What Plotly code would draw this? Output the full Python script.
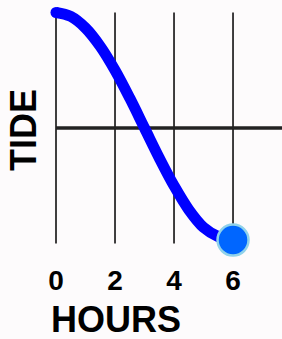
import plotly.graph_objects as go

# Data
hours = [0, 0.5, 1, 1.5, 2, 2.5, 3, 3.5, 4, 4.5, 5, 5.5, 6]
tide = [1.0, 0.966, 0.866, 0.707, 0.5, 0.259, 0.0, -0.259, -0.5, -0.707, -0.86, -0.94, -0.97]
tick_hours = [0, 2, 4, 6]
tick_labels = ["0", "2", "4", "6"]
grid_low, grid_high = -1, 1
mean_level = 0
x_end = 8

FONT = "Arial, Liberation Sans, sans-serif"
BG = "#fdfbfc"

fig = go.Figure()

# vertical grid lines at the hour ticks
gx, gy = [], []
for h in tick_hours:
    gx += [h, h, None]
    gy += [grid_low, grid_high, None]
fig.add_trace(go.Scatter(x=gx, y=gy, mode="lines",
                         line=dict(color="#000000", width=1.5),
                         hoverinfo="skip", showlegend=False))

# mean tide level line
fig.add_trace(go.Scatter(x=[tick_hours[0], x_end], y=[mean_level, mean_level], mode="lines",
                         line=dict(color="#222222", width=3.5),
                         hoverinfo="skip", showlegend=False))

# tide curve
fig.add_trace(go.Scatter(x=hours, y=tide, mode="lines",
                         line=dict(color="#0000ff", width=11, shape="spline"),
                         showlegend=False))

# start cap
fig.add_trace(go.Scatter(x=hours[:1], y=tide[:1], mode="markers",
                         marker=dict(color="#0000ff", size=11, line=dict(width=0)),
                         showlegend=False, cliponaxis=False))

# end dot
fig.add_trace(go.Scatter(x=hours[-1:], y=tide[-1:], mode="markers",
                         marker=dict(color="#0066ff", size=31,
                                     line=dict(color="#90d2ea", width=2.5)),
                         showlegend=False, cliponaxis=False))

PLOT_BOTTOM = 261
fig.update_layout(
    width=282, height=339,
    margin=dict(l=47, r=0, t=1, b=339 - PLOT_BOTTOM),
    paper_bgcolor=BG, plot_bgcolor=BG,
    showlegend=False,
    xaxis=dict(range=[-0.305, 7.66], showgrid=False, zeroline=False, showline=False,
               tickmode="array", tickvals=tick_hours, ticktext=tick_labels,
               ticks="", ticklabelstandoff=0,
               tickfont=dict(family=FONT, size=28, color="#000000", weight="bold"),
               fixedrange=True),
    yaxis=dict(range=[-(PLOT_BOTTOM - 128) / 115.5, 1.0996], showgrid=False, zeroline=False,
               showline=False, showticklabels=False, ticks="", fixedrange=True),
    annotations=[
        dict(text="HOURS", xref="paper", yref="paper", x=(116 - 47) / 235,
             y=-(319 - PLOT_BOTTOM) / (PLOT_BOTTOM - 1),
             xanchor="center", yanchor="middle", showarrow=False,
             font=dict(family=FONT, size=36, color="#000000", weight="bold")),
        dict(text="TIDE", xref="paper", yref="paper", x=-(47 - 23) / 235,
             y=(PLOT_BOTTOM - 130) / (PLOT_BOTTOM - 1),
             xanchor="center", yanchor="middle", showarrow=False, textangle=-90,
             font=dict(family=FONT, size=36, color="#000000", weight="bold")),
    ],
)

fig.write_html("out.html", config={"displayModeBar": False},
               post_script="document.body.style.margin='0';document.body.style.overflow='hidden';")
